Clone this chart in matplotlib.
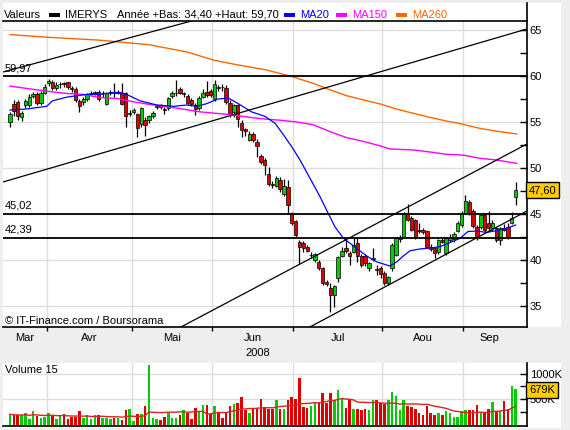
import matplotlib
matplotlib.use("Agg")
import matplotlib.pyplot as plt
import matplotlib.transforms as mtransforms
from matplotlib.patches import Rectangle
from matplotlib.lines import Line2D
import numpy as np
import pandas as pd

plt.rcParams["font.family"] = ["Liberation Sans", "DejaVu Sans"]
plt.rcParams["font.size"] = 8

# ---- data, one candle per trading day ----
opens = [55.0, 57.0, 57.2, 55.5, 56.9, 56.8, 57.8, 58.0, 57.1, 58.2,
         59.2, 59.3, 58.7, 59.1, 59.2, 59.3, 58.7, 58.6, 57.3, 57.2,
         57.45, 58.0, 58.15, 58.3, 58.1, 57.0, 58.15, 58.2, 58.2, 58.2,
         58.1, 55.9, 56.1, 55.85, 54.75, 55.2, 55.2, 55.6, 56.65, 56.8,
         56.4, 56.5, 57.8, 58.1, 58.55, 58.0, 57.8, 57.4, 56.85, 56.5,
         57.75, 58.3, 58.4, 57.45, 58.85, 58.8, 58.7, 57.1, 56.1, 56.85,
         54.9, 54.2, 53.0, 53.7, 52.8, 51.3, 50.9, 49.3, 48.3, 48.05,
         48.7, 47.2, 47.9, 45.1, 44.2, 42.0, 41.9, 41.45, 40.5, 40.0,
         39.8, 39.1, 37.65, 37.0, 36.2, 38.0, 40.45, 41.3, 40.8, 40.9,
         41.8, 40.4, 40.4, 39.1, 40.15, 38.95, 39.1, 38.6, 37.5, 39.1,
         40.55, 42.25, 42.55, 45.1, 44.6, 44.35, 43.3, 43.3, 43.1, 41.45,
         41.3, 40.9, 42.2, 40.8, 42.2, 42.25, 43.15, 43.8, 45.1, 46.35,
         45.3, 43.6, 43.6, 44.9, 44.0, 43.45, 43.45, 42.2, 43.45, 43.6,
         44.0, 46.8]
highs = [56.1, 57.4, 57.4, 56.2, 57.5, 58.0, 58.3, 58.3, 58.4, 59.1,
         59.7, 59.6, 59.3, 59.4, 59.4, 59.4, 58.9, 58.8, 57.5, 57.7,
         58.2, 58.4, 58.4, 58.5, 58.4, 58.3, 58.5, 59.2, 58.5, 59.2,
         58.3, 56.3, 56.5, 56.0, 56.6, 55.5, 55.8, 56.2, 56.9, 57.0,
         56.6, 57.7, 58.4, 59.6, 58.8, 58.3, 58.0, 57.6, 57.1, 57.8,
         58.6, 59.5, 58.6, 59.6, 59.0, 59.1, 59.0, 57.4, 57.0, 57.0,
         55.2, 54.4, 54.0, 53.9, 53.1, 51.5, 51.1, 50.1, 48.6, 49.1,
         49.0, 48.8, 48.7, 45.2, 44.3, 42.2, 42.1, 41.6, 40.9, 40.8,
         40.0, 39.2, 37.8, 37.5, 37.3, 40.4, 41.45, 42.2, 41.0, 42.35,
         42.35, 40.6, 40.6, 39.8, 41.3, 39.5, 39.3, 38.8, 38.3, 41.8,
         42.5, 42.7, 45.2, 46.1, 44.8, 44.5, 44.0, 43.5, 43.3, 41.7,
         41.4, 42.3, 42.4, 42.5, 42.8, 43.0, 44.2, 45.3, 47.1, 46.5,
         45.5, 43.8, 45.1, 45.0, 45.3, 44.3, 43.6, 43.6, 43.9, 44.0,
         45.2, 48.5]
lows = [54.5, 55.6, 55.2, 55.1, 56.5, 56.6, 57.6, 56.9, 56.9, 58.0,
        58.9, 58.5, 58.5, 58.7, 58.8, 58.6, 58.3, 57.2, 56.1, 56.9,
        57.3, 57.9, 57.9, 57.3, 57.7, 56.9, 57.9, 57.7, 58.0, 56.9,
        54.5, 55.6, 55.9, 53.4, 54.5, 53.5, 54.9, 55.4, 56.4, 56.4,
        55.9, 56.3, 57.6, 57.8, 58.0, 57.7, 56.8, 56.7, 55.8, 56.3,
        57.6, 57.7, 57.7, 57.3, 58.4, 58.4, 57.0, 55.5, 55.5, 54.5,
        53.4, 53.5, 52.9, 52.8, 51.2, 50.4, 49.2, 48.0, 47.8, 47.9,
        47.4, 47.0, 45.1, 43.8, 42.5, 39.6, 40.9, 40.9, 40.2, 39.8,
        38.9, 37.3, 37.2, 34.4, 34.9, 37.6, 40.3, 40.8, 39.5, 40.8,
        39.8, 39.2, 39.3, 38.8, 39.9, 38.4, 38.0, 37.3, 37.3, 38.8,
        40.4, 42.0, 42.4, 44.2, 43.1, 42.3, 42.9, 42.8, 41.3, 41.0,
        40.2, 40.7, 41.8, 40.5, 42.0, 42.0, 43.0, 43.6, 45.0, 44.9,
        43.5, 42.2, 43.4, 43.0, 43.2, 43.2, 42.0, 41.6, 43.1, 42.3,
        43.9, 46.0]
closes = [55.9, 56.2, 55.7, 56.0, 57.3, 57.7, 58.05, 57.1, 58.1, 58.8,
          59.45, 58.7, 59.0, 59.15, 59.1, 58.85, 58.6, 57.4, 56.7, 57.5,
          58.0, 58.2, 58.25, 57.45, 58.2, 58.1, 58.2, 58.15, 58.3, 57.0,
          55.6, 56.0, 56.3, 54.3, 56.5, 54.7, 55.6, 56.0, 56.7, 56.65,
          56.35, 57.6, 58.2, 58.15, 58.2, 58.1, 57.1, 57.0, 56.4, 57.6,
          58.2, 57.9, 57.9, 59.1, 58.65, 58.75, 57.2, 55.9, 56.8, 55.3,
          54.1, 54.0, 53.7, 53.05, 52.4, 50.6, 50.3, 48.3, 48.1, 48.9,
          47.7, 48.05, 46.0, 44.0, 42.7, 41.45, 41.3, 41.0, 40.55, 40.7,
          39.1, 37.5, 37.4, 36.2, 37.2, 40.35, 41.0, 41.0, 40.4, 41.6,
          40.4, 39.45, 39.65, 39.65, 40.2, 38.9, 38.45, 37.5, 38.2, 41.6,
          42.35, 42.55, 45.1, 44.35, 43.3, 42.55, 43.1, 43.0, 41.45, 41.2,
          40.75, 42.2, 42.0, 42.35, 42.35, 42.8, 44.0, 45.1, 46.45, 45.1,
          43.7, 42.5, 44.9, 43.3, 43.45, 44.05, 42.2, 43.45, 43.3, 42.55,
          44.6, 47.6]
volumes = [200, 180, 180, 180, 230, 110, 257, 165, 125, 145,
           230, 165, 110, 165, 200, 100, 145, 145, 257, 125,
           180, 110, 180, 180, 132, 132, 110, 132, 132, 92,
           276, 309, 60, 200, 200, 355, 1165, 132, 110, 92,
           157, 220, 132, 132, 180, 276, 223, 100, 328, 243,
           374, 374, 210, 355, 243, 132, 230, 355, 407, 420,
           539, 289, 223, 309, 309, 506, 341, 296, 296, 473,
           309, 309, 473, 539, 506, 908, 341, 322, 355, 447,
           427, 612, 427, 612, 473, 671, 519, 322, 493, 296,
           296, 276, 296, 276, 486, 473, 420, 407, 486, 631,
           552, 276, 473, 355, 341, 296, 230, 180, 355, 223,
           180, 223, 180, 257, 230, 157, 157, 257, 276, 276,
           276, 374, 223, 223, 296, 440, 263, 263, 453, 296,
           750, 692]

ma20_x = [0, 4, 9.5, 11, 14.7, 16.4, 20, 23.3, 26.8, 28.5, 30.2, 33.7, 38,
          42.3, 45.8, 48.4, 51, 53.9, 56.6, 59.1, 62.6, 66.1, 68.7, 71.2, 73,
          75.1, 77.7, 80.3, 82, 84.2, 86.4, 89.8, 92.4, 95, 98.4, 100.2,
          101.8, 103.6, 106.2, 108.8, 111.4, 114, 116.6, 118.7, 120.9, 123.5,
          126.1, 128.7, 131]
ma20_y = [56.3, 56.4, 56.7, 57.3, 57.7, 57.8, 58.0, 58.0, 58.2, 58.2, 58.0,
          57.3, 56.85, 56.7, 56.85, 56.7, 57.0, 57.5, 57.6, 57.0, 56.1, 55.6,
          54.85, 53.4, 52.3, 50.9, 48.9, 46.9, 45.44, 43.6, 42.36, 41.27,
          40.44, 39.8, 39.35, 39.8, 40.4, 41.0, 41.2, 41.3, 41.45, 41.9,
          42.36, 43.1, 43.15, 43.0, 43.2, 43.45, 43.8]
ma150_x = [0, 6, 10.4, 14.7, 19, 23.3, 27.6, 31.9, 36.3, 40.6, 44.9, 49.2,
           53.5, 57.9, 62.2, 66.5, 69.9, 74.3, 78.6, 82.9, 87.2, 91.5, 95.9,
           98.4, 104.5, 108.8, 113.1, 117.4, 121.8, 126.1, 131.3]
ma150_y = [58.9, 58.55, 58.3, 58.1, 58.0, 57.65, 57.57, 57.2, 56.9, 56.67,
           56.4, 56.1, 55.94, 55.76, 55.5, 55.3, 55.2, 55.0, 54.7, 53.95,
           53.3, 52.9, 52.4, 52.07, 51.96, 51.74, 51.49, 51.4, 51.05, 50.87,
           50.5]
ma260_x = [0, 10, 23, 36, 46, 52.6, 57.8, 66.5, 72.5, 78.6, 82.9, 87.2,
           91.5, 95.9, 100.2, 104.5, 108.8, 113.1, 117.4, 121.8, 126.1, 131.3]
ma260_y = [64.5, 64.2, 63.9, 63.4, 62.6, 61.74, 61.3, 60.65, 60.0, 59.2,
           58.5, 57.86, 57.4, 56.96, 56.4, 55.94, 55.5, 55.1, 54.75, 54.3,
           54.0, 53.7]

levels = [59.97, 45.02, 42.39]
level_labels = ["59,97", "45,02", "42,39"]
# trend lines as (x0, y0, x1, y1) in day index / price
trend_lines = [(-1.81, 60.43, 49.0, 66.2),
               (-1.81, 48.48, 133.94, 65.11),
               (44.3, 32.72, 133.94, 52.61),
               (77.7, 32.72, 133.94, 45.33)]

months = ["Mar", "Avr", "Mai", "Jun", "Jul", "Aou", "Sep"]
month_starts = [9.6, 31.6, 52.3, 73.3, 96.4, 117.4]

last_price = "47,60"
last_volume = "679K"

# ---- layout helpers (pixel -> figure fraction) ----
W, H = 570, 430


def fx(px):
    return px / W


def fy(py):
    return 1 - py / H


GREEN = "#00cc00"
RED = "#dd0000"
GRID = "#dddddd"
XMIN, XMAX = -1.81, 133.94

fig = plt.figure(figsize=(5.7, 4.3), dpi=100, facecolor="#eeeeee")
fig.patches.append(Rectangle((fx(3), fy(327)), (561 - 3) / W, (327 - 3) / H,
                             transform=fig.transFigure, fc="white", ec="none", zorder=-10))
fig.patches.append(Rectangle((fx(3), fy(428)), (561 - 3) / W, (428 - 363) / H,
                             transform=fig.transFigure, fc="white", ec="none", zorder=-10))

# ---- price panel ----
ax = fig.add_axes([fx(3), fy(327), (527 - 3) / W, (327 - 20.5) / H])
ax.patch.set_alpha(0)
ax.set_xlim(XMIN, XMAX)
ax.set_ylim(32.72, 66.03)

idx = np.arange(len(closes))
o = np.array(opens)
c = np.array(closes)
up = c >= o
cols = np.where(up, GREEN, RED)

ax.vlines(idx, lows, highs, color="black", lw=0.9, zorder=3)
body_bottom = np.minimum(o, c)
body_h = np.maximum(np.abs(c - o), 0.08)
ax.bar(idx, body_h, bottom=body_bottom, width=0.88, color=cols,
       edgecolor="black", linewidth=0.5, zorder=4)

ax.plot(ma260_x, ma260_y, color="#ff6600", lw=1, zorder=5)
ax.plot(ma150_x, ma150_y, color="#ff00ff", lw=1, zorder=5)
ax.plot(ma20_x, ma20_y, color="#0000ff", lw=0.9, zorder=5)

for x0, y0, x1, y1 in trend_lines:
    ax.plot([x0, x1], [y0, y1], color="black", lw=0.9, zorder=5)

for lv, lab in zip(levels, level_labels):
    ax.axhline(lv, color="black", lw=1.3, zorder=5)
    ax.text(-1.3, lv + 0.35, lab, ha="left", va="bottom", fontsize=8, zorder=6)

ax.spines["left"].set_visible(False)
for side in ["top", "right", "bottom"]:
    ax.spines[side].set_color("black")
    ax.spines[side].set_linewidth(1.2)

ax.yaxis.tick_right()
ax.set_yticks([35, 40, 45, 50, 55, 60, 65])
ax.set_yticks([37.5, 42.5, 47.5, 52.5, 57.5, 62.5], minor=True)
ax.tick_params(axis="y", which="both", direction="in", length=5, width=1,
               labelsize=8, pad=2)
ax.set_xticks(month_starts)
ax.set_xticklabels([])
mids = [(a + b) / 2 for a, b in zip([XMIN] + month_starts, month_starts + [idx[-1]])]
ax.set_xticks(mids, minor=True)
ax.set_xticklabels(months, minor=True)
ax.tick_params(axis="x", which="major", direction="out", length=3, width=1)
ax.tick_params(axis="x", which="minor", length=0, pad=4, labelsize=8)
ax.grid(True, which="major", color=GRID, lw=1, zorder=0)
ax.set_axisbelow(True)

tr = mtransforms.blended_transform_factory(ax.transAxes, ax.transData)
ax.text(1.004, 47.6, last_price, transform=tr, ha="left", va="center", fontsize=8,
        bbox=dict(boxstyle="square,pad=0.25", fc="#ffcc00", ec="black", lw=1), zorder=10)

ax.text(fx(5), fy(320.5), "\u00a9 IT-Finance.com / Boursorama", transform=fig.transFigure,
        ha="left", va="center", fontsize=8)

# header line through the title area
fig.lines.append(Line2D([fx(527), fx(527)], [fy(3), fy(20.5)], transform=fig.transFigure,
                        color="black", lw=1.2))
ty = fy(14.5)
fig.text(fx(4), ty, "Valeurs", va="center", fontsize=8)
fig.text(fx(65), ty, "IMERYS", va="center", fontsize=8)
fig.text(fx(117), ty, "Année +Bas: 34,40 +Haut: 59,70", va="center", fontsize=8)
for x0, lab, col in [(48.5, None, "black"), (284, "MA20", "#0000ff"),
                     (336.5, "MA150", "#ff00ff"), (396, "MA260", "#ff6600")]:
    fig.patches.append(Rectangle((fx(x0), fy(16.5)), 11 / W, 4 / H, transform=fig.transFigure,
                                 fc=col, ec="none"))
    if lab:
        fig.text(fx(x0 + 16), ty, lab, va="center", fontsize=8, color=col)

fig.text(fx(258), fy(353), "2008", ha="center", va="center", fontsize=8)

# ---- volume panel ----
axv = fig.add_axes([fx(3), fy(426), (527 - 3) / W, (426 - 363) / H])
axv.patch.set_alpha(0)
axv.set_xlim(XMIN, XMAX)
axv.set_ylim(-29, 1206)
axv.bar(idx, volumes, width=0.66, color=cols, zorder=3)
vol_ma = pd.Series(volumes).rolling(15, min_periods=1).mean()
axv.plot(idx, vol_ma, color="#dd2222", lw=1, zorder=4)

axv.spines["left"].set_visible(False)
axv.spines["top"].set_visible(False)
axv.spines["right"].set_linewidth(1.2)
axv.spines["bottom"].set_linewidth(1.2)
axv.yaxis.tick_right()
axv.set_yticks([500, 1000])
axv.set_yticklabels(["500K", "1000K"])
axv.set_yticks([250, 750], minor=True)
axv.tick_params(axis="y", which="both", direction="in", length=5, width=1,
                labelsize=8, pad=2)
axv.set_xticks(month_starts)
axv.tick_params(axis="x", length=0, labelbottom=False)
axv.grid(True, color=GRID, lw=1, zorder=0)
axv.set_axisbelow(True)
axv.text(fx(5), fy(370), "Volume 15", transform=fig.transFigure, ha="left",
         va="center", fontsize=8)
trv = mtransforms.blended_transform_factory(axv.transAxes, axv.transData)
axv.text(1.004, 679, last_volume, transform=trv, ha="left", va="center", fontsize=8,
         bbox=dict(boxstyle="square,pad=0.25", fc="#ffcc00", ec="black", lw=1), zorder=10)

fig.savefig("out.png", dpi=100, facecolor=fig.get_facecolor())
